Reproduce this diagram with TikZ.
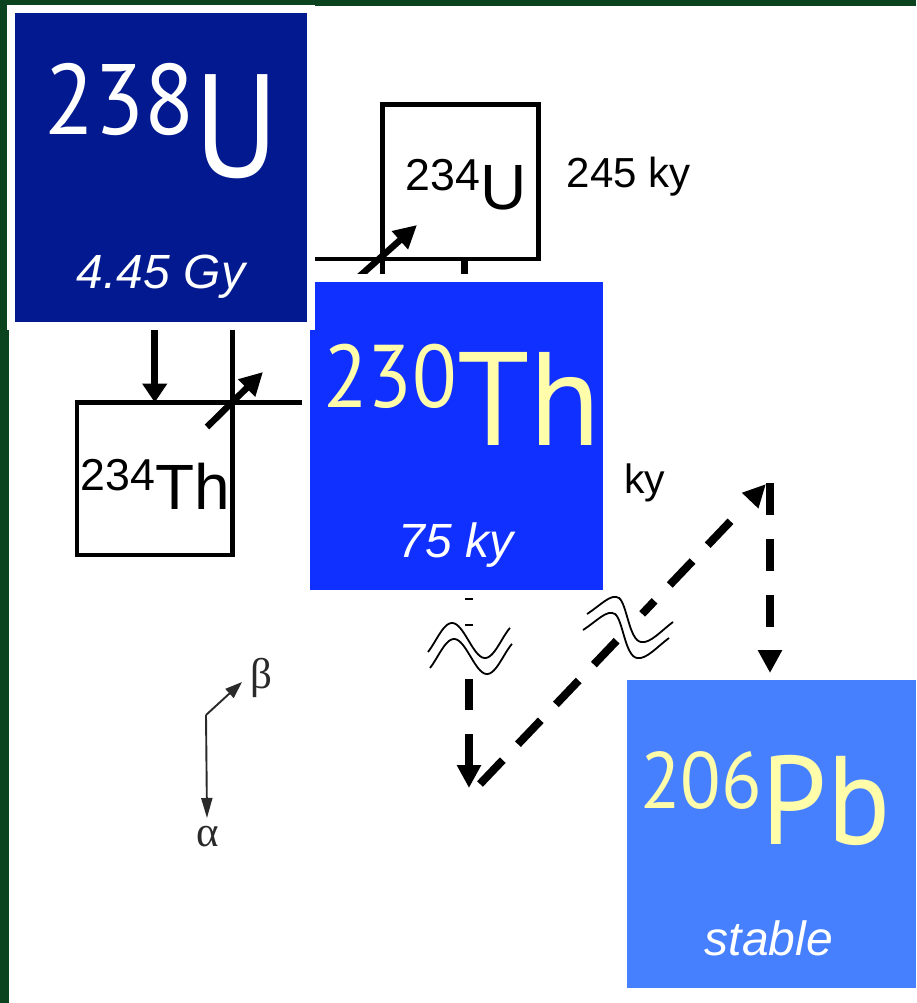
\documentclass[tikz,border=0pt]{standalone}
\usepackage{fontspec}
\usepackage{graphicx}
\setmainfont{Liberation Sans}
\newfontfamily\gillfont{PT Sans}
\newfontfamily\grkfont{Liberation Serif}
\usetikzlibrary{arrows.meta}
\definecolor{frameGreen}{HTML}{0A431E}
\definecolor{navyU}{HTML}{03198F}
\definecolor{blueTh}{HTML}{1030FF}
\definecolor{bluePb}{HTML}{4680FF}
\definecolor{paleY}{HTML}{FFFCAA}
\definecolor{greekGray}{HTML}{2A2A2A}
\newcommand{\setfs}[1]{\fontsize{#1}{#1}\selectfont}
\newcommand{\hsq}[2]{\scalebox{#1}[1]{#2}}
\pgfdeclarelayer{bottom}
\pgfdeclarelayer{background}
\pgfsetlayers{bottom,background,main}
\begin{document}
\begin{tikzpicture}[x=1pt,y=-1pt,
  isobox/.style={inner sep=0pt, outer sep=0pt, draw=white, line width=8pt},
  thinbox/.style={draw=black, line width=4.5pt, inner sep=0pt, outer sep=0pt},
  conn/.style={line width=4.5pt},
  decayarrow/.style={line width=6.5pt, -{Triangle[length=23pt,width=23pt]}},
  dasharrow/.style={line width=8pt, -{Triangle[length=23pt,width=23pt]}},
  legendarrow/.style={line width=1.9pt, draw=greekGray},
  wave/.style={line width=1.8pt},
  bigsym/.style={anchor=base west, inner sep=0pt, font=\gillfont},
  smallsym/.style={anchor=base west, inner sep=0pt, text=black},
  halflife/.style={anchor=base, inner sep=0pt, text=white, font={\itshape\setfs{48}}},
  greek/.style={inner sep=0pt, text=greekGray, font={\grkfont\setfs{43}}}
]
\useasboundingbox (0,0) rectangle (916,1003);
\begin{pgfonlayer}{bottom}
  \fill[white] (0,0) rectangle (916,1003);
  \fill[frameGreen] (0,0) rectangle (916,6);
  \fill[frameGreen] (0,0) rectangle (9,1003);
\end{pgfonlayer}

% boxes
\node[isobox, fill=blueTh, minimum width=301pt, minimum height=316pt] (th230) at (456.5,436) {};
\node[isobox, fill=navyU, minimum width=300pt, minimum height=317pt] (u238) at (161,167.5) {};
\node[inner sep=0pt, outer sep=0pt, fill=bluePb, minimum width=289pt, minimum height=308pt] (pb206) at (771.5,834) {};
\node[thinbox, minimum width=156pt, minimum height=154.5pt] (u234) at (460.5,181.75) {};
\node[thinbox, minimum width=155.5pt, minimum height=152.5pt] (th234) at (154.75,478.75) {};

% labels
\node[bigsym, text=white] (u238lbl) at (44,178) {\raisebox{43pt}{\hsq{0.92}{\setfs{100}238}}\hsq{0.88}{\setfs{147}U}};
\node[halflife] (u238hl) at (161,288) {4.45 Gy};
\node[bigsym, text=paleY] (th230lbl) at (323,445) {\raisebox{38pt}{\hsq{0.92}{\setfs{89}230}}\hsq{0.98}{\setfs{133}Th}};
\node[halflife] (th230hl) at (456,557) {75 ky};
\node[bigsym, text=paleY] (pb206lbl) at (640,844) {\raisebox{36pt}{\hsq{0.93}{\setfs{80}206}}\hsq{0.93}{\setfs{126}Pb}};
\node[halflife] (pb206hl) at (769,955) {stable};
\node[smallsym] (u234lbl) at (405.5,209) {\raisebox{19pt}{\setfs{44.7}234}\setfs{64}U};
\node[smallsym] (th234lbl) at (80.5,509) {\raisebox{19pt}{\setfs{44.7}234}\setfs{64}Th};
\node[smallsym, font=\setfs{42}] (u234hl) at (566.5,188) {245 ky};
\node[smallsym, font=\setfs{41}] (kylbl) at (624,493) {ky};
\node[greek, anchor=base west] (betalbl) at (250,688) {β};
\node[greek, anchor=base] (alphalbl) at (207.5,846) {α};

% connectors hidden partly behind the coloured boxes
\begin{pgfonlayer}{background}
  \draw[line width=7pt, -{Triangle[length=19pt,width=24pt]}] (th234.north |- u238.south) -- (th234.north);
  \draw[conn] (th234.north east) -- (th234.north east |- u238.south);
  \draw[conn] (th234.north east) -- (th234.north east -| th230.west);
  \draw[conn] (u234.south west) -- (u234.south west -| u238.east);
  \draw[conn] (u234.south west) -- (u234.south west |- th230.north);
  \draw[line width=7pt] ([xshift=3.5pt]u234.south) -- ([xshift=3.5pt]u234.south |- th230.north);
  \coordinate (b1s) at (352,283);
  \coordinate (b1e) at (417,225);
  \draw[decayarrow] (b1s) -- (b1e);
\end{pgfonlayer}

\coordinate (b2s) at (207,427);
\coordinate (b2e) at (263,372);
\draw[decayarrow] (b2s) -- (b2e);

% dashed chain to 206Pb
\coordinate (d1s) at (469,598);
\coordinate (d1e) at (469,788);
\coordinate (d2s) at (480,784);
\coordinate (d2e) at (766,484);
\coordinate (d3s) at (770,483);
\coordinate (d3e) at (770,673);
\draw[dasharrow, dash pattern=on 2pt off 24pt on 1.5pt off 53.5pt on 31pt off 24pt on 40pt] (d1s) -- (d1e);
\draw[line width=8pt, -{Triangle[length=23pt,width=21pt]},
  dash pattern=on 33pt off 22pt on 33pt off 22pt on 33pt off 22pt on 33pt off 37pt on 18pt off 22pt on 33pt off 22pt on 33pt off 60pt] (d2s) -- (d2e);
\draw[dasharrow, dash pattern=on 32pt off 24pt] (d3s) -- (d3e);

% break marks
\draw[wave] plot[domain=428:510, samples=60, smooth] (\x, {640.5-17.5*sin(5.454545*(\x-435.5))});
\draw[wave] plot[domain=430:512, samples=60, smooth] (\x, {656.5-17.5*sin(5.454545*(\x-437.5))});
\draw[wave] (587,614) .. controls (601,605) and (611,593) .. (619,598)
  .. controls (627,604) and (629,640) .. (641,642)
  .. controls (650,644) and (662,630) .. (673,622);
\draw[wave] (583,630) .. controls (597,621) and (607,609) .. (615,614)
  .. controls (623,620) and (625,656) .. (637,658)
  .. controls (646,660) and (658,646) .. (669,638);

% legend
\coordinate (lc) at (206,715);
\coordinate (lbeta) at (242,682);
\coordinate (lalpha) at (207,818);
\draw[legendarrow, -{Triangle[length=17pt,width=12pt]}] (lc) -- (lbeta);
\draw[legendarrow, -{Triangle[length=20pt,width=11pt]}] (lc) -- (lalpha);
\end{tikzpicture}
\end{document}
